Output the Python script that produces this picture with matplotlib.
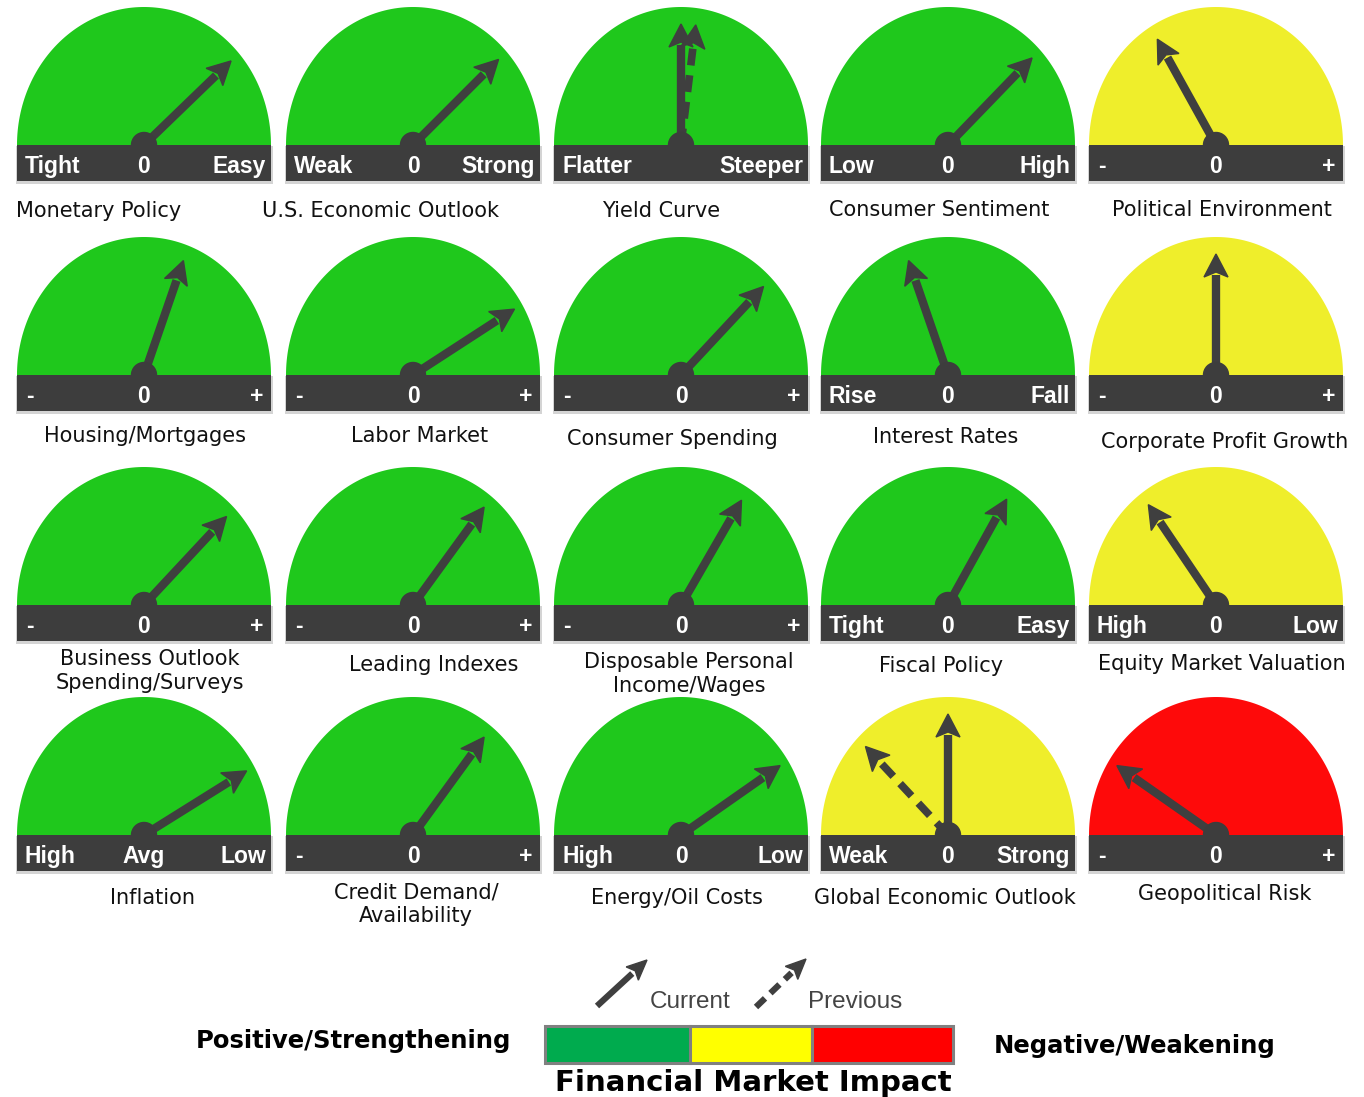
import numpy as np
import matplotlib.pyplot as plt
from matplotlib.patches import Polygon, Rectangle, Circle

# gauge contents, row by row (5 per row)
titles = ["Monetary Policy", "U.S. Economic Outlook", "Yield Curve", "Consumer Sentiment", "Political Environment",
          "Housing/Mortgages", "Labor Market", "Consumer Spending", "Interest Rates", "Corporate Profit Growth",
          "Business Outlook\nSpending/Surveys", "Leading Indexes", "Disposable Personal\nIncome/Wages", "Fiscal Policy", "Equity Market Valuation",
          "Inflation", "Credit Demand/\nAvailability", "Energy/Oil Costs", "Global Economic Outlook", "Geopolitical Risk"]
left_labels = ["Tight", "Weak", "Flatter", "Low", "-",
               "-", "-", "-", "Rise", "-",
               "-", "-", "-", "Tight", "High",
               "High", "-", "High", "Weak", "-"]
mid_labels = ["0", "0", "", "0", "0",
              "0", "0", "0", "0", "0",
              "0", "0", "0", "0", "0",
              "Avg", "0", "0", "0", "0"]
right_labels = ["Easy", "Strong", "Steeper", "High", "+",
                "+", "+", "+", "Fall", "+",
                "+", "+", "+", "Easy", "Low",
                "Low", "+", "Low", "Strong", "+"]
zones = ["green", "green", "green", "green", "yellow",
         "green", "green", "green", "green", "yellow",
         "green", "green", "green", "green", "yellow",
         "green", "green", "green", "yellow", "red"]
# needle directions in degrees (0 = right, 90 = straight up)
current_deg = [44, 45, 90, 46, 119,
               71, 33, 47, 109, 90,
               47, 54, 60, 61, 124,
               32, 54, 35, 90, 145]
previous_deg = [None, None, 83, None, None,
                None, None, None, None, None,
                None, None, None, None, None,
                None, None, None, 133, None]
# where each title sits (pixel offsets from the gauge hub)
title_dx = [-45, -32, -20, -9, 6,
            1, 7, -9, -2, 9,
            6, 21, 8, -7, 6,
            8, 3, -4, -3, 9]
title_dy = [66, 66, 66, 65, 65,
            61, 61, 64, 62, 67,
            66, 60, 69, 61, 59,
            63, 69, 63, 63, 59]

legend_colors = ["#00ab4e", "#ffff00", "#ff0000"]
legend_edges = [545, 690, 812, 953]

zone_colors = {"green": "#1fc81c", "yellow": "#efee2b", "red": "#fe0a0a"}
dark = "#3d3d3d"
needle_col = "#3f3f3f"

fig = plt.figure(figsize=(13.64, 10.97), dpi=100)
ax = fig.add_axes([0, 0, 1, 1])
ax.set_xlim(0, 1364)
ax.set_ylim(1097, 0)
ax.axis("off")

col_x = [144, 413, 681, 948, 1216]
row_y = [145, 375, 605, 835]
half_w = 127
dome_h = 138
bar_h = 36
needle_len = 121


def draw_arrow(hx, hy, deg, dashed=False):
    a = np.radians(deg)
    ux, uy = np.cos(a), -np.sin(a)
    px, py = -uy, ux
    tipx, tipy = hx + needle_len * ux, hy + needle_len * uy
    head_l, head_w = 23, 12
    bx, by = tipx - head_l * ux, tipy - head_l * uy
    if dashed:
        ax.plot([hx, bx], [hy, by], color=needle_col, lw=5.5, ls=(0, (2.2, 1.3)),
                solid_capstyle="butt", zorder=5)
    else:
        ax.plot([hx, bx + 2 * ux], [hy, by + 2 * uy], color=needle_col, lw=6,
                solid_capstyle="butt", zorder=6)
    head = Polygon([(tipx, tipy), (bx + head_w * px, by + head_w * py),
                    (bx + 5 * ux, by + 5 * uy), (bx - head_w * px, by - head_w * py)],
                   closed=True, color=needle_col, zorder=6)
    ax.add_patch(head)


for i in range(20):
    hx = col_x[i % 5]
    hy = row_y[i // 5]
    t = np.linspace(0, np.pi, 120)
    dome = np.column_stack([hx + half_w * np.cos(t), hy - dome_h * np.sin(t)])
    ax.add_patch(Polygon(dome, closed=True, color=zone_colors[zones[i]], zorder=1, lw=0))
    # shadow + bar
    ax.add_patch(Rectangle((hx - half_w - 1, hy + 1), 2 * half_w + 3, bar_h + 2,
                           color="#d4d4d4", zorder=2, lw=0))
    ax.add_patch(Rectangle((hx - half_w, hy), 2 * half_w, bar_h, color=dark, zorder=3, lw=0))
    ax.add_patch(Circle((hx, hy), 12.5, color=dark, zorder=7))

    if previous_deg[i] is not None:
        draw_arrow(hx, hy, previous_deg[i], dashed=True)
    draw_arrow(hx, hy, current_deg[i])

    ly = hy + 21.5
    lab_kw = dict(color="white", fontsize=16.5, fontweight="bold", family="Liberation Sans",
                  va="center", zorder=8)
    if left_labels[i] == "-":
        ax.text(hx - half_w + 9, ly, "-", ha="left", **lab_kw)
    else:
        ax.text(hx - half_w + 8, ly, left_labels[i], ha="left", **lab_kw)
    if right_labels[i] == "+":
        ax.text(hx + half_w - 8, ly, "+", ha="right", **lab_kw)
    else:
        ax.text(hx + half_w - 5, ly, right_labels[i], ha="right", **lab_kw)
    ax.text(hx, ly, mid_labels[i], ha="center", **lab_kw)

    ax.text(hx + title_dx[i], hy + title_dy[i], titles[i], ha="center", va="center",
            fontsize=15, family="DejaVu Sans", color="#111111",
            linespacing=1.2, zorder=8)


# legend arrows
def legend_arrow(x0, y0, x1, y1, dashed):
    d = np.array([x1 - x0, y1 - y0], float)
    u = d / np.hypot(*d)
    p = np.array([-u[1], u[0]])
    tip = np.array([x1, y1])
    base = tip - 20 * u
    ls = (0, (2.0, 1.2)) if dashed else "-"
    ax.plot([x0, base[0]], [y0, base[1]], color=needle_col, lw=4.5, ls=ls,
            solid_capstyle="butt", zorder=5)
    ax.add_patch(Polygon([tip, base + 9 * p, base + 4 * u, base - 9 * p], closed=True,
                         color=needle_col, zorder=6))


legend_arrow(597, 1006, 647, 960, False)
legend_arrow(756, 1007, 806, 959, True)
ax.text(690, 1002, "Current", ha="center", va="center", fontsize=17.5,
        family="Liberation Sans", color="#444444")
ax.text(855, 1002, "Previous", ha="center", va="center", fontsize=17.5,
        family="Liberation Sans", color="#444444")

for k, c in enumerate(legend_colors):
    ax.add_patch(Rectangle((legend_edges[k], 1026), legend_edges[k + 1] - legend_edges[k], 37,
                           facecolor=c, edgecolor="#808080", lw=2.2, zorder=3))

ax.text(753, 1083, "Financial Market Impact", ha="center", va="center",
        fontsize=21, fontweight="bold", family="DejaVu Sans", color="black")
ax.text(353, 1041, "Positive/Strengthening", ha="center", va="center",
        fontsize=17.5, fontweight="bold", family="DejaVu Sans", color="black")
ax.text(1135, 1046, "Negative/Weakening", ha="center", va="center",
        fontsize=17.5, fontweight="bold", family="DejaVu Sans", color="black")

fig.savefig("out.png", dpi=100, facecolor="white")
